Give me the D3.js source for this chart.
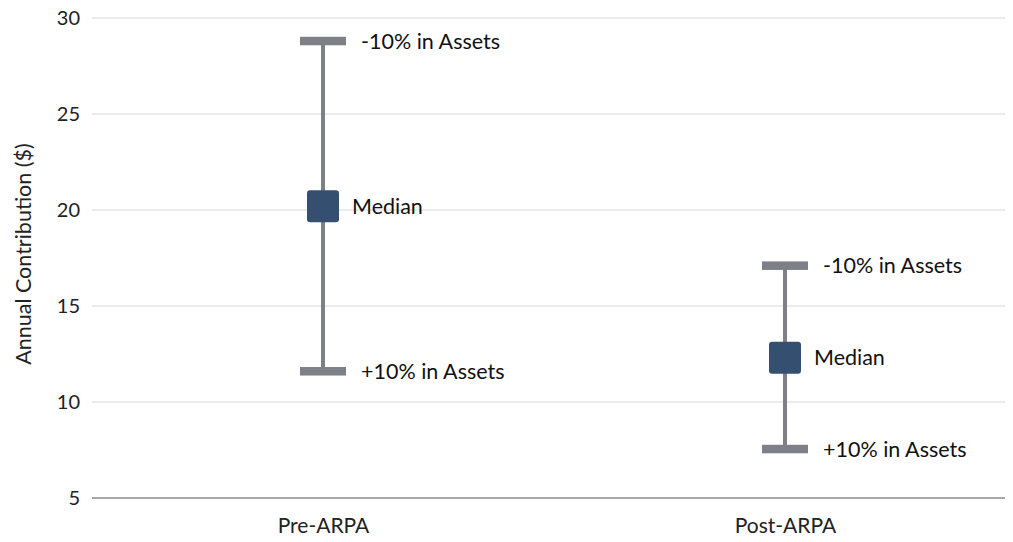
<!DOCTYPE html>
<html>
<head>
<meta charset="utf-8">
<script src="https://cdn.jsdelivr.net/npm/d3@7"></script>
<style>
  html, body { margin: 0; padding: 0; background: #fff; }
  svg { display: block; font-family: Lato, "Open Sans", sans-serif; }
</style>
</head>
<body>
<svg id="chart" width="1013" height="542"></svg>
<script>
const categories = ["Pre-ARPA", "Post-ARPA"];
const highValues = [28.8, 17.1];     // -10% in Assets
const medianValues = [20.2, 12.3];   // Median
const lowValues = [11.6, 7.55];      // +10% in Assets
const yTicks = [5, 10, 15, 20, 25, 30];
const highLabel = "-10% in Assets";
const medianLabel = "Median";
const lowLabel = "+10% in Assets";
const yTitle = "Annual Contribution ($)";

const svg = d3.select("#chart");
const plot = { left: 92, right: 1005, top: 18, bottom: 498 };

const x = d3.scalePoint().domain(categories).range([plot.left, 1016]).padding(0.5);
const y = d3.scaleLinear().domain([5, 30]).range([plot.bottom, plot.top]);

// gridlines
svg.append("g").selectAll("line").data(yTicks.filter(t => t !== 5)).join("line")
  .attr("x1", plot.left).attr("x2", plot.right)
  .attr("y1", d => y(d)).attr("y2", d => y(d))
  .attr("stroke", "#d9d9d9").attr("stroke-width", 1);

// y axis labels
const yAxis = d3.axisLeft(y).tickValues(yTicks).tickSize(0).tickPadding(0);
const yg = svg.append("g").attr("transform", `translate(${plot.left - 12},0)`).call(yAxis);
yg.select(".domain").remove();
yg.selectAll("text").attr("font-size", 20).attr("fill", "#222").attr("font-family", "Lato, sans-serif");

// x axis
const xAxis = d3.axisBottom(x).tickSize(0).tickPadding(20);
const xg = svg.append("g").attr("transform", `translate(0,${plot.bottom})`).call(xAxis);
xg.select(".domain").remove();
xg.selectAll("text").attr("font-size", 21).attr("fill", "#222").attr("font-family", "Lato, sans-serif");
svg.append("line").attr("x1", plot.left).attr("x2", plot.right)
  .attr("y1", y(5)).attr("y2", y(5)).attr("stroke", "#8c8c8c").attr("stroke-width", 1.5);

// y title
svg.append("text")
  .attr("transform", `translate(31,254) rotate(-90)`)
  .attr("text-anchor", "middle")
  .attr("font-size", 21.5).attr("fill", "#222")
  .text(yTitle);

const data = categories.map((c, i) => ({ c, hi: highValues[i], med: medianValues[i], lo: lowValues[i] }));
const grey = "#7d8087";
const g = svg.append("g");

// whiskers
g.selectAll(".whisker").data(data).join("line")
  .attr("x1", d => x(d.c)).attr("x2", d => x(d.c))
  .attr("y1", d => y(d.hi)).attr("y2", d => y(d.lo))
  .attr("stroke", grey).attr("stroke-width", 4);

// caps
const capW = 46, capH = 8.5;
g.selectAll(".capHi").data(data).join("rect")
  .attr("x", d => x(d.c) - capW / 2).attr("y", d => y(d.hi) - capH / 2)
  .attr("width", capW).attr("height", capH).attr("fill", grey);
g.selectAll(".capLo").data(data).join("rect")
  .attr("x", d => x(d.c) - capW / 2).attr("y", d => y(d.lo) - capH / 2)
  .attr("width", capW).attr("height", capH).attr("fill", grey);

// median squares
const sq = 32;
g.selectAll(".med").data(data).join("rect")
  .attr("x", d => x(d.c) - sq / 2).attr("y", d => y(d.med) - sq / 2)
  .attr("width", sq).attr("height", sq).attr("rx", 3)
  .attr("fill", "#344f70");

// labels
const lbl = (val, text, dx) => g.selectAll(null).data(data).join("text")
  .attr("x", d => x(d.c) + dx).attr("y", d => y(d[val]))
  .attr("dy", "0.35em").attr("font-size", 21.5).attr("fill", "#111")
  .text(text);
lbl("hi", highLabel, 38);
lbl("med", medianLabel, 29);
lbl("lo", lowLabel, 38);
</script>
</body>
</html>
